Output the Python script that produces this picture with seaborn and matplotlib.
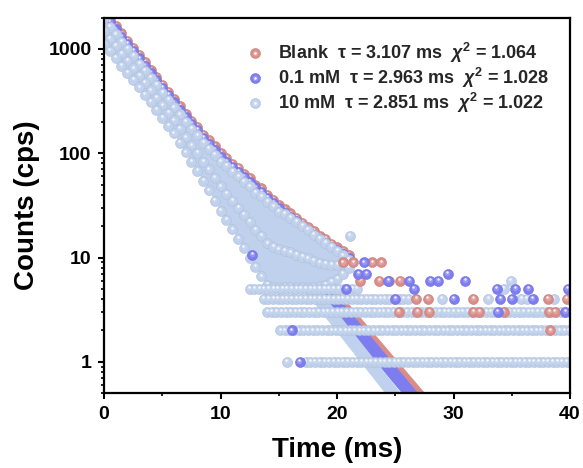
import numpy as np
import pandas as pd
import seaborn as sns
import matplotlib
matplotlib.use("Agg")
import matplotlib.pyplot as plt
import matplotlib.colors as mcolors
from matplotlib.transforms import offset_copy
from matplotlib.lines import Line2D
from matplotlib.legend_handler import HandlerTuple
from matplotlib.ticker import MultipleLocator, LogLocator, NullFormatter

# ---------------- data ----------------
SERIES = ["Blank", "0.1 mM", "10 mM"]
TAU = ["3.107", "2.963", "2.851"]
CHI2 = ["1.064", "1.028", "1.022"]
COLORS = ["#DA8D88", "#7D7DF0", "#C0D1ED"]

# decay band (time in ms, every 0.5 ms), envelopes of the dense point cloud (cps)
BAND_T = [0, 0.5, 1, 1.5, 2, 2.5, 3, 3.5, 4, 4.5, 5, 5.5, 6, 6.5, 7, 7.5, 8, 8.5, 9, 9.5,
          10, 10.5, 11, 11.5, 12, 12.5, 13, 13.5, 14, 14.5, 15, 15.5, 16, 16.5, 17, 17.5,
          18, 18.5, 19, 19.5, 20, 20.5, 21]
RED_UP = [2290, 1950, 1660, 1410, 1200, 1020, 870, 745, 630, 540, 455, 390, 330, 285, 240,
          205, 180, 150, 133, 117, 100, 90, 79, 72, 63, 58, 50, 46, 40, 36, 32, 29, 26.5,
          24, 21.5, 19.5, 18, 16, 15, 13.5, 12.5, 11.5, 10.7]
BLUE_UP = [2130, 1810, 1540, 1310, 1115, 950, 810, 690, 585, 500, 425, 362, 307, 262, 224,
           192, 166, 141, 123, 108, 93, 83, 74, 66, 59, 53, 47, 42.5, 37, 33.5, 30, 27,
           24.5, 22.5, 20, 18.5, 16.5, 15, 13.8, 12.6, 11.7, 10.8, 10]
LB_UP = [2000, 1620, 1380, 1170, 1000, 850, 722, 615, 523, 448, 378, 323, 275, 236, 199,
         172, 148, 125, 110, 97, 83, 75, 66, 60, 53, 48, 42, 38.5, 34, 31, 27.5, 26, 24,
         22, 20, 18.5, 16.5, 15, 13.8, 12.6, 11.5, 10.5, 9.5]
LB_MID = [1500, 1240, 1060, 900, 770, 650, 555, 470, 400, 340, 288, 244, 206, 172, 142,
          119, 100, 82, 70, 58, 48, 41, 35, 30, 25.5, 22, 18.4, 16, 13.7, 12.7, 12, 11.6,
          11.2, 10.7, 10.2, 9.8, 9.3, 8.9, 8.7, 8.5, 8.5, 8.6, 8.7]
LB_LOW = [1120, 955, 813, 692, 589, 501, 427, 363, 309, 260, 219, 184, 155, 126, 102, 83,
          68, 54, 44, 35, 28, 23, 18.6, 15.1, 12.3, 10, 8.1, 6.6, 5.5, 5.2, 5.2, 5.2, 5.2,
          5.2, 5.2, 5.2, 5.2, 5.3, 5.5, 5.8, 6.3, 7, 8]

# fitted mono-exponential curves (straight on the log axis): start / end points
FIT_T0 = [0, 0, 0]
FIT_Y0 = [1640, 1640, 1640]
FIT_T1 = [27.6, 27.0, 25.5]
FIT_Y1 = [0.4, 0.4, 0.4]

# background rows of the 10 mM trace: (count level, first channel, last channel)
ROW_STEP = 0.4
LB_ROW_LEVEL = [1, 2, 3, 4, 5]
LB_ROW_START = [17.3, 15.1, 14.0, 13.7, 12.5]
LB_ROW_END = [40.2, 40.2, 40.2, 26.2, 22.0]

# isolated points
LB_PTS_T = [15.7, 21.1, 29.0, 33.0, 34.3, 34.9, 35.8, 36.3, 38.6]
LB_PTS_Y = [1, 16, 4, 4, 5, 6, 4, 4, 4]
RED_PTS_T = [20.5, 21.4, 23.0, 23.8, 22.0, 23.6, 24.5, 25.4, 26.8, 27.8, 31.7, 38.1, 39.7,
             25.3, 26.9, 27.9, 31.7, 32.2, 34.3, 38.2, 38.7, 38.3]
RED_PTS_Y = [9, 9, 9, 9, 6, 6, 6, 6, 4, 4, 4, 4, 4,
             3, 3, 3, 3, 3, 3, 3, 3, 2]
BLUE_PTS_T = [12.7, 16.1, 16.8, 21.8, 22.3, 22.5, 20.8, 24.4, 26.2, 26.6, 28.0, 28.7, 29.5, 31.0,
              33.7, 35.3, 36.4, 39.8, 25.0, 30.0, 34.0, 35.0, 36.8, 33.8, 39.6]
BLUE_PTS_Y = [10.6, 2, 1, 7, 9, 7, 5, 6, 6, 5, 6, 6, 7, 6,
              5, 5, 5, 5, 4, 4, 4, 4, 4, 3, 3]

# ---------------- style ----------------
sns.set_theme(style="ticks")
plt.rcParams["font.family"] = ["Liberation Sans", "DejaVu Sans"]
plt.rcParams["font.weight"] = "bold"
plt.rcParams["mathtext.fontset"] = "custom"
plt.rcParams["mathtext.rm"] = "Liberation Sans:bold"
plt.rcParams["mathtext.it"] = "Liberation Sans:italic:bold"
plt.rcParams["mathtext.bf"] = "Liberation Sans:bold"

fig = plt.figure(figsize=(5.83, 4.68), dpi=100)
ax = fig.add_axes([0.1784, 0.1596, 0.7993, 0.803])
ax.set_yscale("log")
ax.set_xlim(0, 40)
ax.set_ylim(0.5, 2000)

BALL_S = 52
off_mid = offset_copy(ax.transData, fig=fig, x=-0.2, y=0.6, units="points")
off_hi = offset_copy(ax.transData, fig=fig, x=-0.3, y=1.3, units="points")


def shade(c, f):
    r = np.array(mcolors.to_rgb(c))
    return tuple(r + (1 - r) * f) if f >= 0 else tuple(r * (1 + f))


def balls(t, y, color, z, mid=0.15):
    df = pd.DataFrame({"t": t, "y": y})
    sns.scatterplot(data=df, x="t", y="y", color=color, s=BALL_S,
                    edgecolor=shade(color, -0.08), linewidth=0.4,
                    ax=ax, zorder=z, legend=False)
    ax.scatter(df["t"], df["y"], s=BALL_S * 0.3, color=shade(color, mid),
               linewidths=0, transform=off_mid, zorder=z + 0.01)
    ax.scatter(df["t"], df["y"], s=BALL_S * 0.06, color="white", alpha=0.85,
               linewidths=0, transform=off_hi, zorder=z + 0.02)


# fitted curves
for i in range(3):
    fit = pd.DataFrame({"t": [FIT_T0[i], FIT_T1[i]], "y": [FIT_Y0[i], FIT_Y1[i]]})
    sns.lineplot(data=fit, x="t", y="y", color=COLORS[i], lw=9,
                 solid_capstyle="butt", ax=ax, zorder=1 + 0.1 * i, legend=False)

# decay bands
ax.fill_between(BAND_T, LB_UP, RED_UP, color=COLORS[0], lw=0, zorder=2)
balls(BAND_T, RED_UP, COLORS[0], 2.1, mid=0.2)
ax.fill_between(BAND_T, LB_UP, BLUE_UP, color=COLORS[1], lw=0, zorder=3)
balls(BAND_T, BLUE_UP, COLORS[1], 3.1, mid=0.2)
ax.fill_between(BAND_T, LB_LOW, LB_UP, color=COLORS[2], lw=0, zorder=4)
balls(BAND_T, LB_UP, COLORS[2], 4.1, mid=0.08)
balls(BAND_T, LB_MID, COLORS[2], 4.1, mid=0.08)
balls(BAND_T, LB_LOW, COLORS[2], 4.1, mid=0.08)

# background rows of the 10 mM trace
for lev, t0, t1 in zip(LB_ROW_LEVEL, LB_ROW_START, LB_ROW_END):
    ts = np.arange(t0, t1 + 1e-6, ROW_STEP)
    balls(ts, [lev] * len(ts), COLORS[2], 4.3, mid=0.08)
balls(LB_PTS_T, LB_PTS_Y, COLORS[2], 4.5, mid=0.15)

# isolated points of the other traces
balls(RED_PTS_T, RED_PTS_Y, COLORS[0], 5.0, mid=0.2)
balls(BLUE_PTS_T, BLUE_PTS_Y, COLORS[1], 5.2, mid=0.2)

# ---------------- axes ----------------
ax.set_xticks([0, 10, 20, 30, 40])
ax.xaxis.set_minor_locator(MultipleLocator(5))
ax.set_yticks([1, 10, 100, 1000], labels=["1", "10", "100", "1000"])
ax.yaxis.set_minor_locator(LogLocator(base=10, subs=np.arange(2, 10)))
ax.yaxis.set_minor_formatter(NullFormatter())
ax.tick_params(axis="both", which="major", direction="out", length=4, width=1.5,
               labelsize=14, pad=5, color="black", labelcolor="black")
ax.tick_params(axis="both", which="minor", direction="out", length=2.5, width=1.2,
               color="black")
for lab in ax.get_xticklabels() + ax.get_yticklabels():
    lab.set_fontweight("bold")
for sp in ax.spines.values():
    sp.set_visible(True)
    sp.set_linewidth(1.6)
    sp.set_color("black")
    sp.set_zorder(10)

ax.set_xlabel("Time (ms)", fontsize=20, fontweight="bold", labelpad=10, color="black")
ax.set_ylabel("Counts (cps)", fontsize=20, fontweight="bold", labelpad=6, color="black")

# legend
handles = []
for c in COLORS:
    base = Line2D([], [], ls="none", marker="o", ms=7.2, mfc=c, mec=shade(c, -0.08), mew=0.4)
    mid = Line2D([], [], ls="none", marker="o", ms=4.0, mfc=shade(c, 0.2), mec="none")
    hi = Line2D([], [], ls="none", marker="o", ms=1.8, mfc="white", mec="none")
    handles.append((base, mid, hi))
labels = [f"{s}  \u03c4 = {t} ms  $\\chi^2$ = {x}" for s, t, x in zip(SERIES, TAU, CHI2)]
ax.legend(handles, labels, handler_map={tuple: HandlerTuple(ndivide=1, pad=0)},
          loc="upper left", bbox_to_anchor=(0.305, 0.9375), frameon=False,
          handlelength=1.0, handletextpad=0.75, labelspacing=0.05,
          borderpad=0, borderaxespad=0, prop={"weight": "bold", "size": 13})

fig.savefig("out.png", dpi=100)
